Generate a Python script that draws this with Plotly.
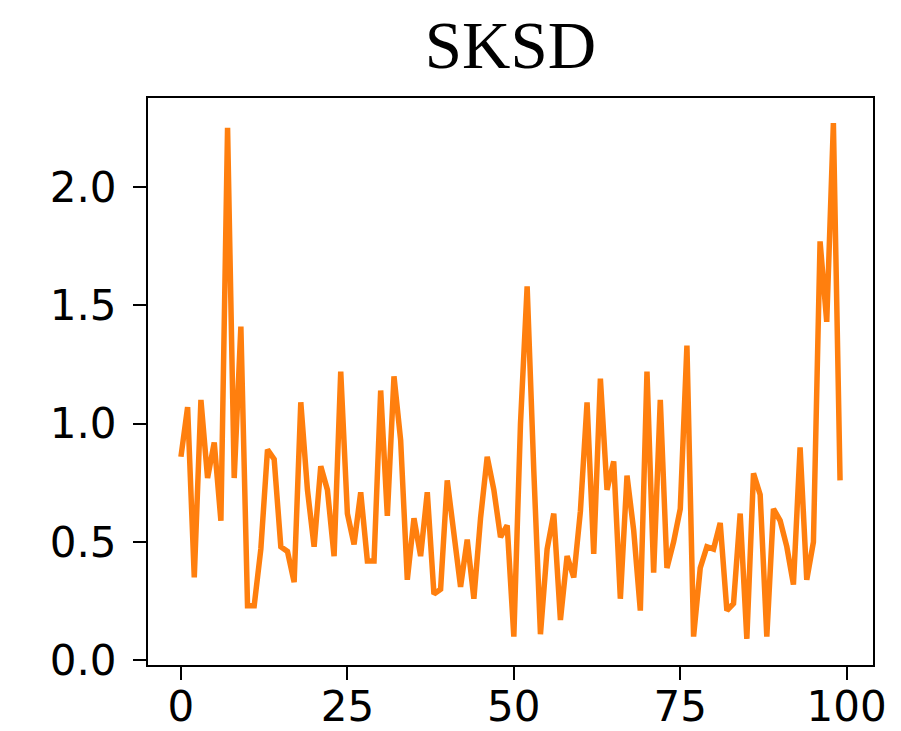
import plotly.graph_objects as go

# SKSD value per step
steps = list(range(100))
sksd = [
    0.86, 1.07, 0.35, 1.10, 0.77, 0.92, 0.59, 2.25, 0.77, 1.41,
    0.23, 0.23, 0.47, 0.89, 0.85, 0.48, 0.46, 0.33, 1.09, 0.72,
    0.48, 0.82, 0.72, 0.44, 1.22, 0.62, 0.49, 0.71, 0.42, 0.42,
    1.14, 0.61, 1.20, 0.93, 0.34, 0.60, 0.44, 0.71, 0.28, 0.30,
    0.76, 0.54, 0.31, 0.51, 0.26, 0.60, 0.86, 0.72, 0.52, 0.57,
    0.10, 1.00, 1.58, 0.80, 0.11, 0.47, 0.62, 0.17, 0.44, 0.35,
    0.63, 1.09, 0.45, 1.19, 0.72, 0.84, 0.26, 0.78, 0.55, 0.21,
    1.22, 0.37, 1.10, 0.39, 0.50, 0.64, 1.33, 0.10, 0.39, 0.48,
    0.47, 0.58, 0.21, 0.24, 0.62, 0.09, 0.79, 0.70, 0.10, 0.64,
    0.59, 0.48, 0.32, 0.90, 0.34, 0.50, 1.77, 1.43, 2.27, 0.76,
]
x_ticks = [0, 25, 50, 75, 100]
y_ticks = [0.0, 0.5, 1.0, 1.5, 2.0]

fig = go.Figure(
    go.Scatter(
        x=steps,
        y=sksd,
        mode="lines",
        line=dict(color="#ff7f0e", width=5.5),
        showlegend=False,
    )
)

axis_common = dict(
    showgrid=False,
    zeroline=False,
    showline=True,
    linecolor="black",
    linewidth=2,
    mirror=True,
    ticks="outside",
    ticklen=13,
    tickwidth=2,
    tickcolor="black",
    tickfont=dict(family="DejaVu Sans", size=42, color="black"),
    automargin=False,
)

fig.update_layout(
    width=901,
    height=731,
    margin=dict(l=148, r=28, t=98, b=66),
    paper_bgcolor="white",
    plot_bgcolor="white",
    title=dict(
        text="SKSD",
        font=dict(family="Liberation Serif", size=67, color="black"),
        x=0.5665,
        xanchor="center",
        xref="container",
        y=1 - 45 / 731,
        yanchor="middle",
        yref="container",
    ),
    xaxis=dict(
        range=[-4.95, 103.95],
        tickvals=x_ticks,
        ticktext=[str(v) for v in x_ticks],
        ticklabelstandoff=-9,
        **axis_common,
    ),
    yaxis=dict(
        range=[-0.02, 2.376],
        tickvals=y_ticks,
        ticktext=[f"{v:.1f}" for v in y_ticks],
        ticklabelstandoff=8,
        **axis_common,
    ),
)

fig.write_html("out.html")
